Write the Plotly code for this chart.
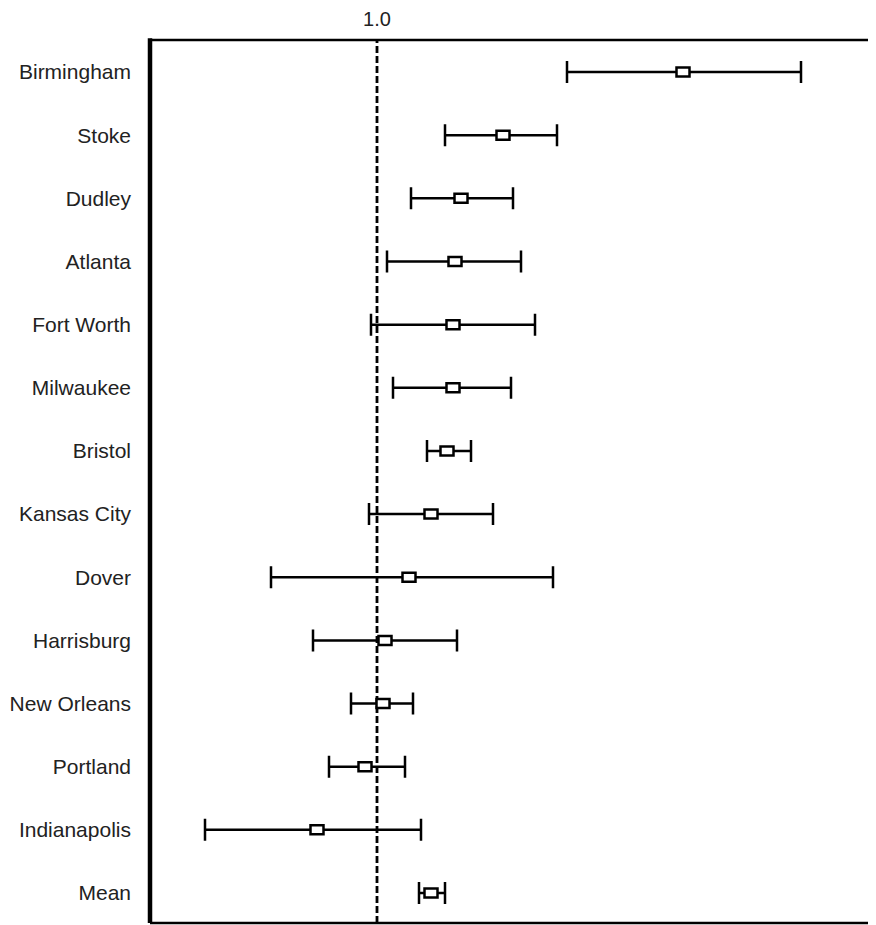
import plotly.graph_objects as go

categories = ["Birmingham", "Stoke", "Dudley", "Atlanta", "Fort Worth", "Milwaukee",
              "Bristol", "Kansas City", "Dover", "Harrisburg", "New Orleans",
              "Portland", "Indianapolis", "Mean"]
estimate = [2.53, 1.63, 1.42, 1.39, 1.38, 1.38, 1.35, 1.27, 1.16, 1.04, 1.03, 0.94, 0.70, 1.27]
lower    = [1.95, 1.34, 1.17, 1.05, 0.97, 1.08, 1.25, 0.96, 0.47, 0.68, 0.87, 0.76, 0.14, 1.21]
upper    = [3.12, 1.90, 1.68, 1.72, 1.79, 1.67, 1.47, 1.58, 1.88, 1.40, 1.18, 1.14, 1.22, 1.34]
ref_value = 1.0
ref_label = "1.0"

ypos = list(range(len(categories)))
err_plus = [u - e for u, e in zip(upper, estimate)]
err_minus = [e - l for e, l in zip(estimate, lower)]

fig = go.Figure()
fig.add_trace(go.Scatter(
    x=estimate, y=ypos, mode="markers",
    marker=dict(size=1, color="rgba(0,0,0,0)"),
    error_x=dict(type="data", symmetric=False, array=err_plus, arrayminus=err_minus,
                 color="black", thickness=2.5, width=11),
    showlegend=False, hoverinfo="skip",
))

shapes = []
# reference dashed line
shapes.append(dict(type="line", xref="x", yref="paper", x0=ref_value, x1=ref_value,
                   y0=0, y1=1, line=dict(color="black", width=2.8, dash="7px,3px"),
                   layer="above"))
# point estimate boxes
for e, y in zip(estimate, ypos):
    shapes.append(dict(type="rect", xref="x", yref="y",
                       xsizemode="pixel", xanchor=e, x0=-6.5, x1=6.5,
                       ysizemode="pixel", yanchor=y, y0=-4.5, y1=4.5,
                       fillcolor="white", line=dict(color="black", width=2.5),
                       layer="above"))
# frame
shapes.append(dict(type="line", xref="paper", yref="paper", x0=0, x1=0, y0=0, y1=1.002,
                   line=dict(color="black", width=4.5)))
shapes.append(dict(type="line", xref="paper", yref="paper", x0=0, x1=1, y0=1, y1=1,
                   line=dict(color="black", width=2.5)))
shapes.append(dict(type="line", xref="paper", yref="paper", x0=0, x1=1, y0=0, y1=0,
                   line=dict(color="black", width=2.5)))

fig.update_layout(
    width=868, height=917,
    margin=dict(l=142, r=0, t=32, b=2),
    paper_bgcolor="white", plot_bgcolor="white",
    shapes=shapes,
    font=dict(family="Liberation Sans, Arial, sans-serif", size=21, color="#222"),
    xaxis=dict(range=[-0.135, 3.495], side="top", tickvals=[ref_value], ticktext=[ref_label],
               showgrid=False, zeroline=False, showline=False, ticks="",
               tickfont=dict(size=20), ticklabelstandoff=9),
    yaxis=dict(range=[13.475, -0.507], tickvals=ypos, ticktext=categories,
               showgrid=False, zeroline=False, showline=False, ticks="",
               ticklabelstandoff=18),
)

fig.write_html("out.html")
